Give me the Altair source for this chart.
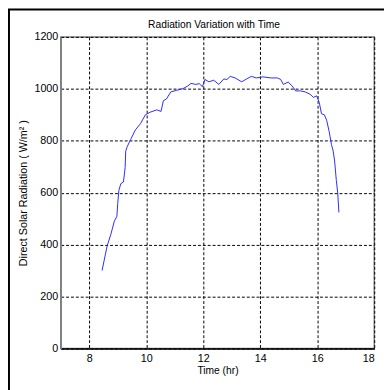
import altair as alt
import pandas as pd

time_hr = [8.45, 8.63, 8.76, 8.88, 8.97, 9.0, 9.04, 9.11, 9.2, 9.26, 9.28, 9.34, 9.45, 9.62, 9.8,
           9.97, 10.14, 10.37, 10.52, 10.6, 10.71, 10.86, 11.06, 11.29, 11.46, 11.57, 11.74, 11.86,
           11.97, 12.06, 12.2, 12.37, 12.55, 12.72, 12.83, 12.95, 13.12, 13.35, 13.52, 13.69, 13.86,
           14.09, 14.38, 14.6, 14.72, 14.81, 14.98, 15.12, 15.24, 15.41, 15.58, 15.75, 15.87, 15.98,
           16.07, 16.15, 16.25, 16.33, 16.42, 16.5, 16.56, 16.61, 16.67, 16.72, 16.76]
radiation = [300, 396, 440, 490, 509, 559, 609, 635, 641, 697, 760, 779, 804, 842, 866,
             900, 910, 919, 913, 954, 961, 988, 994, 1001, 1011, 1021, 1017, 1020,
             1008, 1036, 1027, 1033, 1017, 1038, 1036, 1048, 1042, 1027, 1038, 1048, 1042,
             1046, 1042, 1042, 1036, 1017, 1026, 1011, 992, 992, 988, 979, 967, 973,
             948, 904, 900, 879, 835, 785, 760, 722, 647, 597, 524]
x_ticks = [8, 10, 12, 14, 16, 18]
y_ticks = [0, 200, 400, 600, 800, 1000, 1200]
chart_title = "Radiation Variation with Time"

df = pd.DataFrame({"t": time_hr, "r": radiation})

FONT = "Liberation Sans"

line = alt.Chart(df).mark_line(color="#2a2aff", strokeWidth=1).encode(
    x=alt.X("t:Q", scale=alt.Scale(domain=[7, 18], nice=False, zero=False),
            axis=alt.Axis(values=x_ticks, title="Time (hr)", grid=True, ticks=False,
                          gridColor="#000000", gridDash=[3, 2], gridOpacity=1, gridWidth=1,
                          domainColor="#000000", domainWidth=1.5, format="d",
                          labelFont=FONT, labelFontSize=11, labelColor="#000000", labelPadding=4,
                          titleFont=FONT, titleFontSize=10.5, titleFontWeight="normal",
                          titleColor="#000000", titlePadding=3)),
    y=alt.Y("r:Q", scale=alt.Scale(domain=[0, 1200], nice=False),
            axis=alt.Axis(values=y_ticks, title="Direct Solar Radiation ( W/m² )", grid=True,
                          ticks=False, gridColor="#000000", gridDash=[3, 2], gridOpacity=1,
                          gridWidth=1, domainColor="#808080", domainWidth=1.5, format="d",
                          labelFont=FONT, labelFontSize=11, labelColor="#000000", labelPadding=3,
                          titleFont=FONT, titleFontSize=11, titleFontWeight="normal",
                          titleColor="#000000", titlePadding=6)),
)

frame = alt.Chart(pd.DataFrame({"a": [0]})).mark_rect(
    fill=None, stroke="#000000", strokeWidth=2, clip=False
).encode(x=alt.value(-53), x2=alt.value(400), y=alt.value(-28), y2=alt.value(420))

title_text = alt.Chart(pd.DataFrame({"a": [0]})).mark_text(
    font=FONT, fontSize=10.5, color="#000000", align="center", baseline="middle"
).encode(x=alt.value(157), y=alt.value(-12), text=alt.value(chart_title))

chart = alt.layer(frame, title_text, line).properties(
    width=321, height=319,
    padding={"left": 54, "top": 25, "right": 10, "bottom": 40},
    autosize=alt.AutoSizeParams(type="none"),
    background="#ffffff",
).configure_view(stroke="#808080", strokeWidth=1.5)

chart.save("out.html", embed_options={"renderer": "svg", "actions": False})
